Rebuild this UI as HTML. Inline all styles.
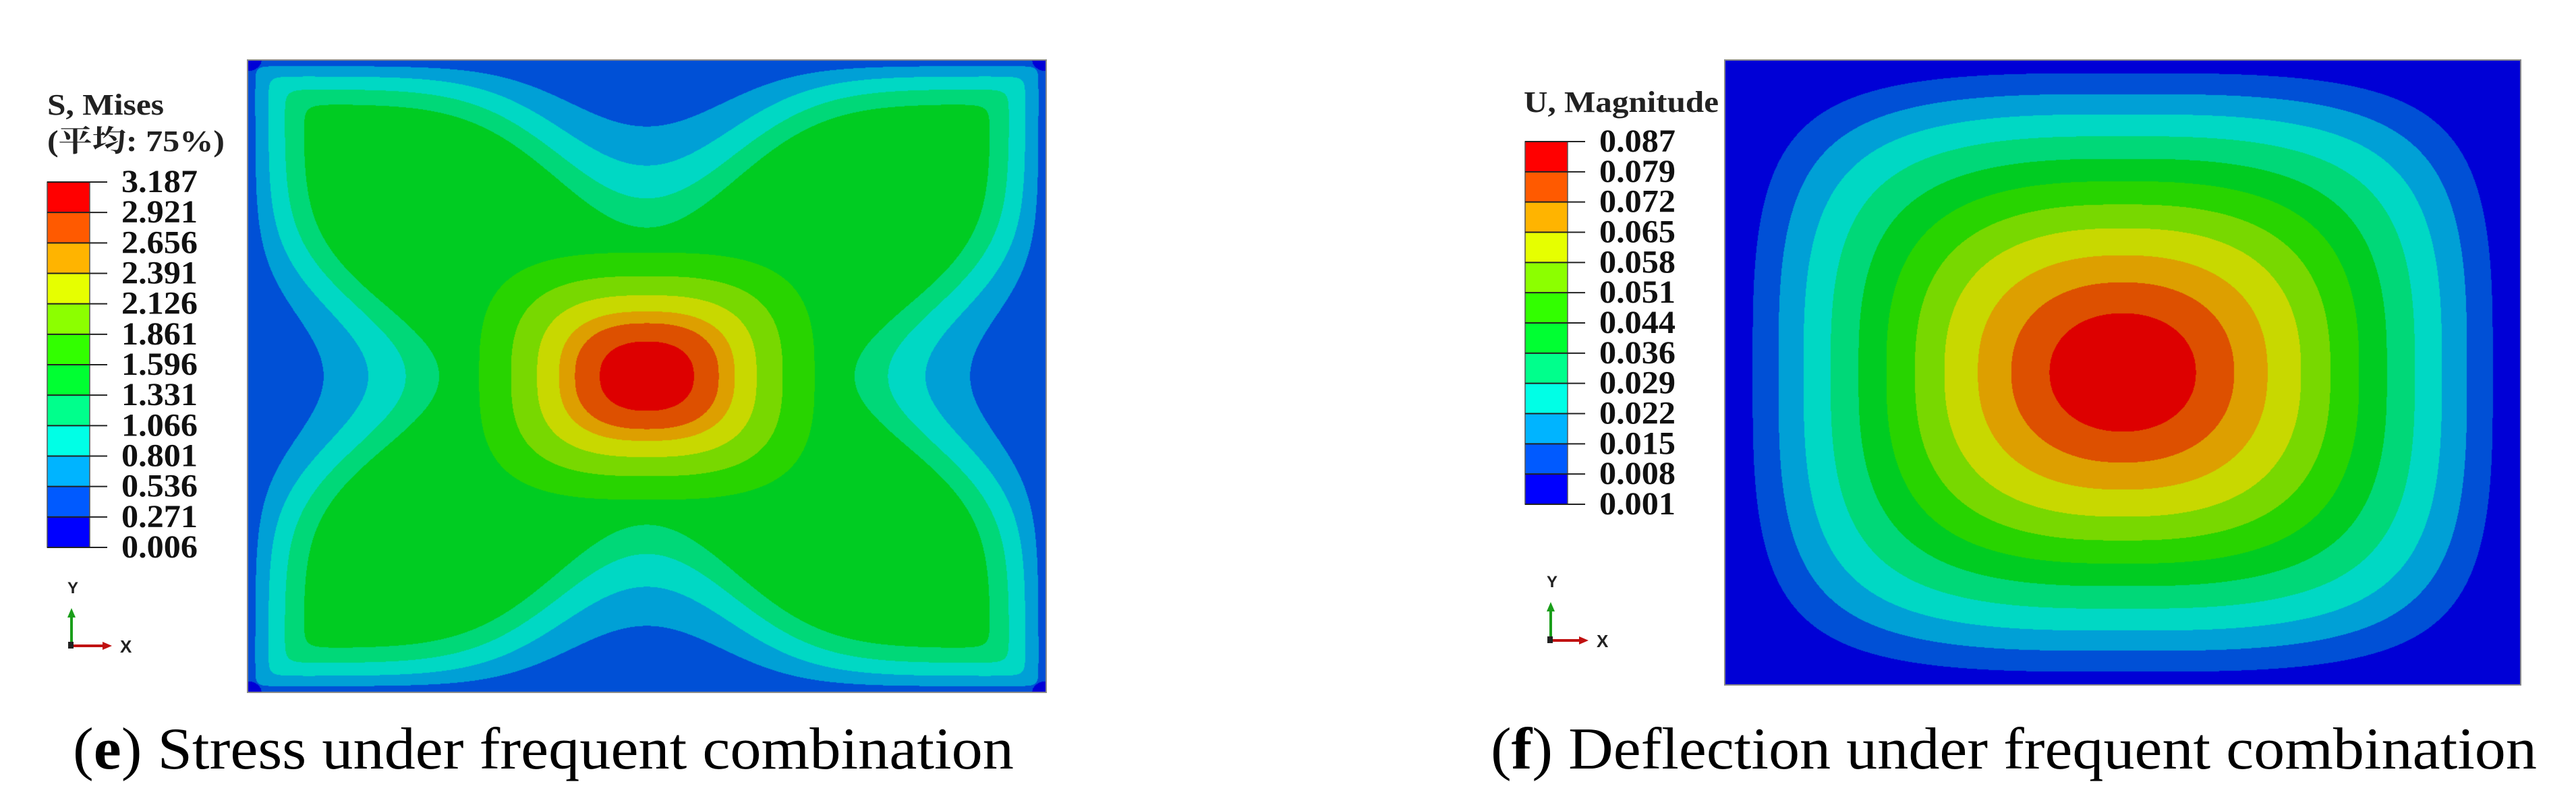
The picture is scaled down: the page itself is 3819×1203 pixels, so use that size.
<!DOCTYPE html>
<html><head><meta charset="utf-8"><style>
html,body{margin:0;padding:0;background:#fff;}
#root{position:relative;width:3819px;height:1203px;overflow:hidden;background:#fff;}
canvas{position:absolute;}
svg{position:absolute;left:0;top:0;}
</style></head><body>
<div id="root">
<canvas id="cL" width="1184" height="938" style="left:367px;top:89px;"></canvas>
<canvas id="cR" width="1180" height="927" style="left:2557px;top:89px;"></canvas>
<svg id="ov" width="3819" height="1203"></svg>
</div>
<script>
// ---- data ----
const stressLabels = ["3.187","2.921","2.656","2.391","2.126","1.861","1.596","1.331","1.066","0.801","0.536","0.271","0.006"];
const deflLabels = ["0.087","0.079","0.072","0.065","0.058","0.051","0.044","0.036","0.029","0.022","0.015","0.008","0.001"];
const legendColors = ["#ff0000","#ff5a00","#ffb400","#e6ff00","#8cff00","#32ff00","#00ff32","#00ff8c","#00ffe6","#00b4ff","#005aff","#0000ff"];
const plotColors = ["#0000d6","#0050d6","#00a0d6","#00d8c4","#00d878","#00cc22","#28d400","#78d800","#c8d800","#dd9f00","#dd5000","#dd0000"];
const stressCenterBands = [6,7,8,9,10,11];
const stressCenterRadii = [0.42,0.34,0.275,0.22,0.18,0.118];
const deflBands = [1,2,3,4,5,6,7,8,9,10,11];
const deflRadii = [0.93,0.865,0.802,0.734,0.664,0.594,0.522,0.448,0.364,0.28,0.184];

function hex(c){return [parseInt(c.slice(1,3),16),parseInt(c.slice(3,5),16),parseInt(c.slice(5,7),16)];}
const pc = plotColors.map(hex);

function paint(id, fn){
  const cv=document.getElementById(id), ctx=cv.getContext('2d');
  const W=cv.width,H=cv.height, img=ctx.createImageData(W,H), d=img.data;
  for(let j=0;j<H;j++){const y=(j+0.5)/H*2-1;
    for(let i=0;i<W;i++){const x=(i+0.5)/W*2-1;
      let b=fn(x,-y); b=Math.max(0,Math.min(11,b));
      const c=pc[b], k=(j*W+i)*4; d[k]=c[0];d[k+1]=c[1];d[k+2]=c[2];d[k+3]=255;}}
  ctx.putImageData(img,0,0);
}
function edgeG(e,t,amp){
  const ex=Math.exp(-t*t/0.1);
  const D=0.14+amp*ex, q=0.7+0.8*ex;
  return 1+4*Math.pow(Math.max(e,0)/D,q);
}
function smin(a,b,k){return -k*Math.log(Math.exp(-a/k)+Math.exp(-b/k));}
function stressBand(x,y){
  const u=Math.abs(x),v=Math.abs(y);
  if(Math.hypot(1-u,1-v)<0.035) return 0;
  let g=smin(edgeG(1-v,x,0.39),edgeG(1-u,y,0.34),0.4);
  g=Math.min(5.5,g);
  let b=Math.floor(g);
  const yy=v/0.93, re=Math.hypot(u,yy), p=2+2.5*re;
  const r=Math.pow(Math.pow(u,p)+Math.pow(yy,p),1/p);
  for(let k=stressCenterRadii.length-1;k>=0;k--){ if(r<stressCenterRadii[k]){b=Math.max(b,stressCenterBands[k]);break;} }
  return b;
}
function deflBand(x,y){
  const u=Math.abs(x),v=Math.abs(y)/1.03, re=Math.hypot(u,v);
  const p=2+1.7*Math.pow(re,1.6);
  const r=Math.pow(Math.pow(u,p)+Math.pow(v,p),1/p);
  let b=0;
  for(let k=0;k<deflRadii.length;k++){ if(r<deflRadii[k]) b=deflBands[k]; }
  return b;
}
paint('cL',stressBand);
paint('cR',deflBand);

// ---- overlays ----
const NS='http://www.w3.org/2000/svg', ov=document.getElementById('ov');
function el(tag,attrs,text){const e=document.createElementNS(NS,tag);for(const k in attrs)e.setAttribute(k,attrs[k]);if(text!==undefined)e.textContent=text;ov.appendChild(e);return e;}
let e;
e=el('rect',{x:367,y:89,width:1184,height:938,fill:'none',stroke:'#8a8a8a','stroke-width':2});


e=el('rect',{x:2557,y:89,width:1180,height:927,fill:'none',stroke:'#8a8a8a','stroke-width':2});



function legend(x0,top,bot,labels,labelX,name){
  const step=(bot-top)/(labels.length-1);
  for(let i=0;i<legendColors.length;i++){
    const r=el('rect',{x:x0,y:top+i*step,width:63,height:step,fill:legendColors[i]});
    
    
  }
  el('rect',{x:x0,y:top,width:63,height:bot-top,fill:'none',stroke:'#555','stroke-width':1.5});
  for(let i=0;i<labels.length;i++){
    const y=top+i*step;
    el('line',{x1:x0,y1:y,x2:x0+89,y2:y,stroke:'#222','stroke-width':2});
    const t=el('text',{x:labelX,y:y+15,'font-family':'Liberation Serif, serif','font-weight':'bold','font-size':48,textLength:113,lengthAdjust:'spacingAndGlyphs',fill:'#111'},labels[i]);
    
    
  }
}
legend(70,270,812,stressLabels,180,'stress-legend');
legend(2261,210,748,deflLabels,2371,'deflection-legend');

e=el('text',{x:70,y:170,'font-family':'Liberation Serif, serif','font-weight':'bold','font-size':44,textLength:173,lengthAdjust:'spacingAndGlyphs',fill:'#222'},'S, Mises');


e=el('text',{x:70,y:224,'font-family':'Liberation Serif, Noto Serif CJK SC, serif','font-weight':'bold','font-size':44,textLength:263,lengthAdjust:'spacingAndGlyphs',fill:'#222'},'(平均: 75%)');


e=el('text',{x:2259,y:166,'font-family':'Liberation Serif, serif','font-weight':'bold','font-size':44,textLength:289,lengthAdjust:'spacingAndGlyphs',fill:'#222'},'U, Magnitude');



function triad(x,yTop,yBase,xEnd,name){
  el('line',{x1:x,y1:yBase,x2:x,y2:yTop+10,stroke:'#1a9e1a','stroke-width':4});
  el('polygon',{points:`${x-6},${yTop+14} ${x+6},${yTop+14} ${x},${yTop}`,fill:'#1a9e1a'});
  el('line',{x1:x,y1:yBase,x2:xEnd-10,y2:yBase,stroke:'#c01010','stroke-width':4});
  el('polygon',{points:`${xEnd-14},${yBase-6} ${xEnd-14},${yBase+6} ${xEnd},${yBase}`,fill:'#c01010'});
  el('rect',{x:x-5,y:yBase-6,width:8,height:10,fill:'#222'});
  let t=el('text',{x:x-6,y:yTop-22,'font-family':'Liberation Sans, sans-serif','font-weight':'bold','font-size':24,fill:'#222'},'Y');
  
  
  t=el('text',{x:xEnd+12,y:yBase+10,'font-family':'Liberation Sans, sans-serif','font-weight':'bold','font-size':26,fill:'#222'},'X');
  
  
}
triad(106,902,958,166,'stress-axis-triad');
triad(2299,893,950,2355,'deflection-axis-triad');

function caption(x,len,letter,rest,name){
  const t=el('text',{x:x,y:1140,'font-family':'Liberation Serif, serif','font-size':88,textLength:len,lengthAdjust:'spacingAndGlyphs',fill:'#000'});
  
  
  const a=document.createElementNS(NS,'tspan');a.textContent='(';t.appendChild(a);
  const b=document.createElementNS(NS,'tspan');b.setAttribute('font-weight','bold');b.textContent=letter;t.appendChild(b);
  const c=document.createElementNS(NS,'tspan');c.textContent=') '+rest;t.appendChild(c);
}
caption(108,1395,'e','Stress under frequent combination','stress-caption');
caption(2210,1551,'f','Deflection under frequent combination','deflection-caption');
</script>
</body></html>
